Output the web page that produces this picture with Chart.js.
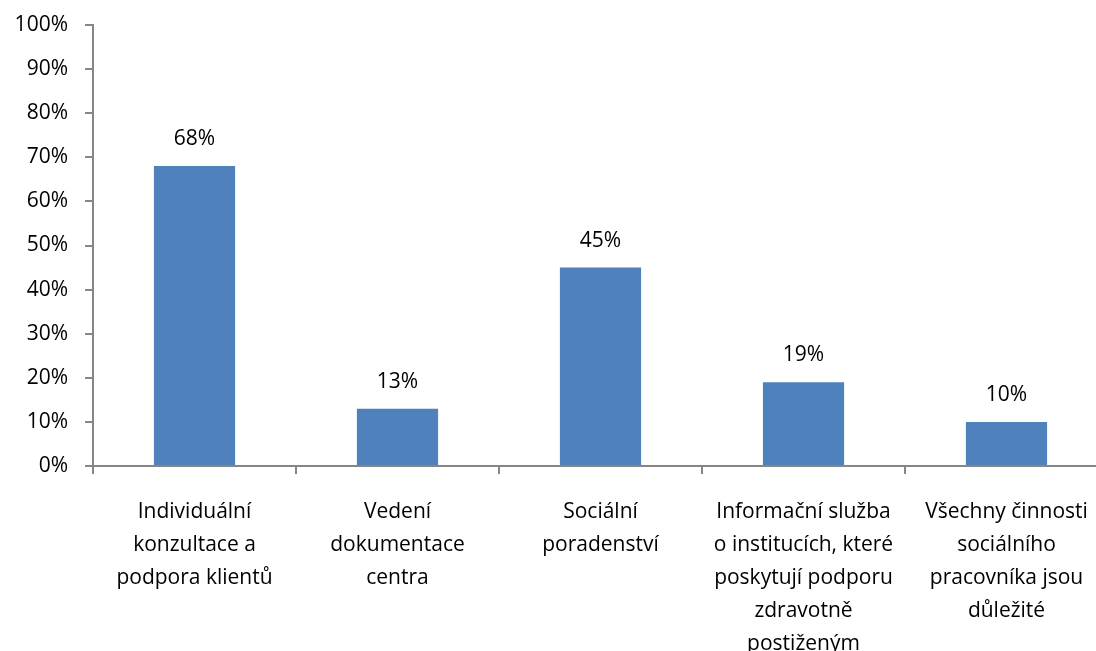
<!DOCTYPE html>
<html><head><meta charset="utf-8">
<script src="https://cdn.jsdelivr.net/npm/chart.js@4/dist/chart.umd.min.js"></script>
<style>html,body{margin:0;padding:0;background:#fff;overflow:hidden}#wrap{width:1110px;height:651px}</style>
</head><body><div id="wrap"><canvas id="c" width="1110" height="651"></canvas></div>
<script>
const categories = [
  ["Individuální", "konzultace a", "podpora klientů"],
  ["Vedení", "dokumentace", "centra"],
  ["Sociální", "poradenství"],
  ["Informační služba", "o institucích, které", "poskytují podporu", "zdravotně", "postiženým"],
  ["Všechny činnosti", "sociálního", "pracovníka jsou", "důležité"]
];
const values = [68, 13, 45, 19, 10];
const yTicks = [0, 10, 20, 30, 40, 50, 60, 70, 80, 90, 100];

const FONT = "'Open Sans', 'Liberation Sans', sans-serif";
const labelPlugin = {
  id: 'vals',
  afterDatasetsDraw(chart) {
    const ctx = chart.ctx;
    const meta = chart.getDatasetMeta(0);
    ctx.save();
    ctx.font = "21px " + FONT;
    ctx.fillStyle = "#000";
    ctx.textAlign = "center";
    ctx.textBaseline = "middle";
    meta.data.forEach((bar, i) => {
      ctx.fillText(values[i] + "%", bar.x, bar.y - 27);
    });
    ctx.restore();
  }
};

new Chart(document.getElementById('c'), {
  type: 'bar',
  data: {
    labels: categories,
    datasets: [{
      data: values,
      backgroundColor: '#4F81BD',
      borderWidth: 0,
      categoryPercentage: 0.4,
      barPercentage: 1.0
    }]
  },
  options: {
    responsive: false,
    animation: false,
    events: [],
    layout: { padding: { top: 25, right: 2, left: 0, bottom: 0 } },
    plugins: { legend: { display: false }, tooltip: { enabled: false } },
    scales: {
      x: {
        grid: { display: true, offset: true, drawOnChartArea: false, drawTicks: true, tickLength: 8, color: '#868686', lineWidth: 2 },
        border: { display: true, color: '#868686', width: 2 },
        ticks: { color: '#000', font: { family: FONT, size: 21, lineHeight: 1.58 }, maxRotation: 0, autoSkip: false, padding: 21 },
        afterFit(s) { s.height = 185; }
      },
      y: {
        min: 0, max: 100,
        afterBuildTicks(s) { s.ticks = yTicks.map(v => ({ value: v })); },
        grid: { display: true, drawOnChartArea: false, drawTicks: true, tickLength: 8, color: '#868686', lineWidth: 2 },
        border: { display: true, color: '#868686', width: 2 },
        ticks: { color: '#000', font: { family: FONT, size: 21 }, padding: 17, callback: v => v + '%' },
        afterFit(s) { s.width = 93; s.paddingTop = 0; s.paddingBottom = 0; }
      }
    }
  },
  plugins: [labelPlugin]
});
</script></body></html>
